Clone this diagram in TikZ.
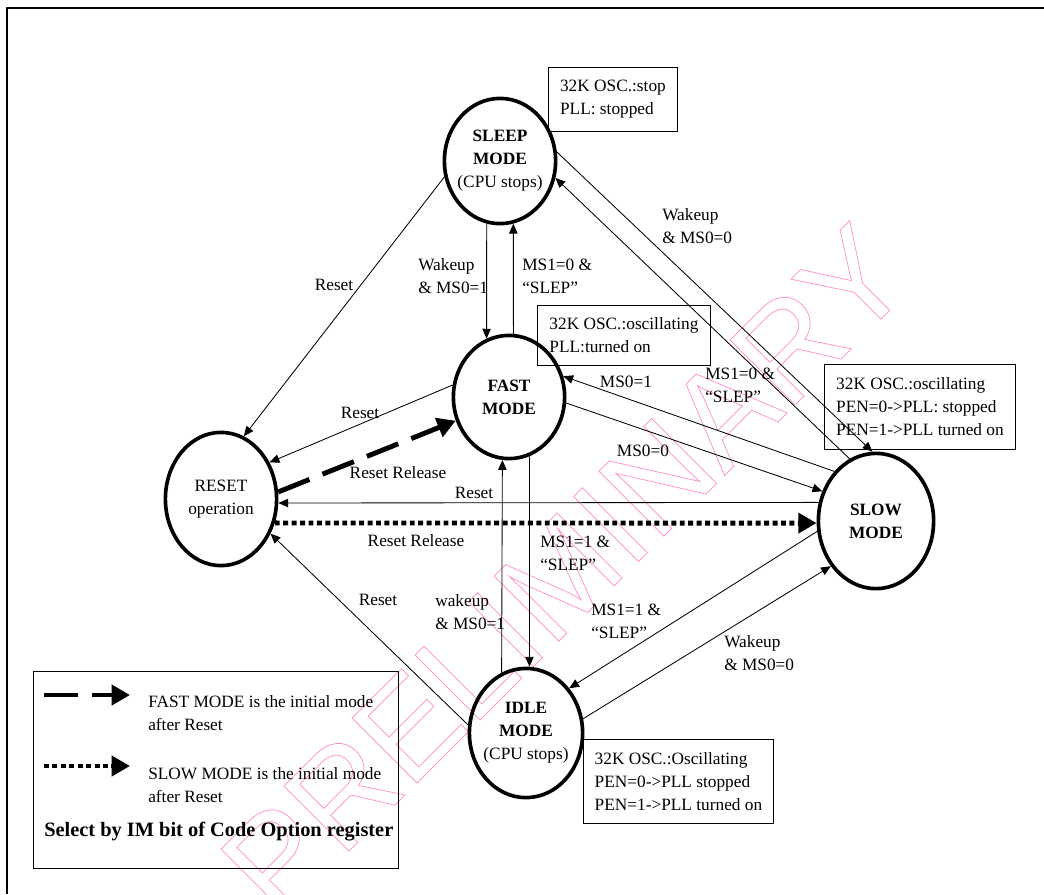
\documentclass[tikz,border=0pt]{standalone}
\usepackage{fontspec}
\setmainfont{Liberation Serif}
\setsansfont{Liberation Sans}
\usetikzlibrary{arrows.meta, shapes.geometric}

\definecolor{markpink}{RGB}{255,140,200}
\newcommand{\outlinetext}[1]{\special{pdf:literal direct 0.5 w 1 Tr}#1\special{pdf:literal direct 0 Tr}}

\begin{document}
\begin{tikzpicture}[
    x=0.025cm, y=-0.025cm,
    every node/.style={font=\fontsize{12.3}{16.4}\selectfont},
    mode/.style={draw, ellipse, line width=2.6pt, inner xsep=-4pt, inner ysep=0pt, align=center},
    info/.style={draw, line width=0.6pt, align=left, inner sep=0pt, anchor=north west},
    lbl/.style={align=left, inner sep=0pt},
    arr/.style={-{Triangle[length=7pt, width=6pt]}, line width=0.6pt},
    dasharr/.style={-{Triangle[length=13pt, width=14pt]}, line width=3.5pt, dash pattern=on 24pt off 10pt},
    dotarr/.style={-{Triangle[length=13pt, width=14pt]}, line width=3.5pt, dash pattern=on 3.5pt off 2.5pt}
]
\useasboundingbox (0,0) rectangle (1044,894);

\node[rotate=45, text=markpink, inner sep=0pt] (mark) at (565,570)
    {\sffamily\fontsize{95}{95}\selectfont\outlinetext{PRELIMINARY}};

\draw[line width=0.8pt] (7,894) -- (7,8) -- (1044,8);

\node[mode, minimum width=2.78cm, minimum height=3.13cm] (sleep) at (500,161) {\textbf{SLEEP}\\\textbf{MODE}\\(CPU stops)};
\node[mode, minimum width=2.78cm, minimum height=3.08cm] (fast) at (509,397) {\textbf{FAST}\\\textbf{MODE}};
\node[mode, minimum width=2.78cm, minimum height=3.33cm] (reset) at (221,499) {RESET\\operation};
\node[mode, minimum width=2.88cm, minimum height=3.38cm] (slow) at (876,521) {\textbf{SLOW}\\\textbf{MODE}};
\node[mode, minimum width=2.83cm, minimum height=3.23cm] (idle) at (526,733) {\textbf{IDLE}\\\textbf{MODE}\\(CPU stops)};

\node[info, minimum width=3.225cm, minimum height=1.6cm] (sleepinfo) at (548,67) {32K OSC.:stop\\PLL: stopped};
\node[info, minimum width=4.325cm, minimum height=1.5cm] (fastinfo) at (537,305) {32K OSC.:oscillating\\PLL:turned on};
\node[info, minimum width=4.775cm, minimum height=2.125cm] (slowinfo) at (824,364) {32K OSC.:oscillating\\PEN=0->PLL: stopped\\PEN=1->PLL turned on};
\node[info, minimum width=4.75cm, minimum height=2.1cm] (idleinfo) at (583,739) {32K OSC.:Oscillating\\PEN=0->PLL stopped\\PEN=1->PLL turned on};

\draw[arr] (sleep.196) -- (reset.70);
\draw[arr] (sleep.258) -- (fast.111);
\draw[arr] (fast.86) -- (sleep.282);
\draw[arr] (sleep.9) -- (slow.93);
\draw[arr] (slow.113) -- (sleep.343);
\draw[arr] (slow.130) -- (fast.21);
\draw[arr] (fast.354) -- (slow.151);
\draw[arr] (fast.168) -- (reset.37);
\draw[dasharr] (reset.7) -- (fast.204);
\draw[arr] (slow.162) -- (reset.356);
\draw[dotarr] (reset.336) -- (slow.182);
\draw[arr] (idle.112) -- (fast.264);
\draw[arr] (fast.289) -- (idle.87);
\draw[arr] (slow.190) -- (idle.46);
\draw[arr] (idle.14) -- (slow.225);
\draw[arr] (idle.172) -- (reset.325);

\node[lbl] (l1) at (334,285) {Reset};
\node[lbl, anchor=west] (l2) at (418,276) {Wakeup\\\& MS0=1};
\node[lbl, anchor=west] (l3) at (522,276) {MS1=0 \&\\“SLEP”};
\node[lbl, anchor=west] (l4) at (662,226) {Wakeup\\\& MS0=0};
\node[lbl, anchor=west] (l5) at (705,385) {MS1=0 \&\\“SLEP”};
\node[lbl] (l6) at (626,382) {MS0=1};
\node[lbl] (l7) at (643,451) {MS0=0};
\node[lbl] (l8) at (360,413) {Reset};
\node[lbl] (l9) at (398,473) {Reset Release};
\node[lbl] (l10) at (474,493) {Reset};
\node[lbl] (l11) at (416,541) {Reset Release};
\node[lbl, anchor=west] (l12) at (540,553) {MS1=1 \&\\“SLEP”};
\node[lbl] (l13) at (378,600) {Reset};
\node[lbl, anchor=west] (l14) at (435,612) {wakeup\\\& MS0=1};
\node[lbl, anchor=west] (l15) at (591,621) {MS1=1 \&\\“SLEP”};
\node[lbl, anchor=west] (l16) at (724,653) {Wakeup\\\& MS0=0};

\node[draw, line width=0.6pt, minimum width=9.125cm, minimum height=4.925cm, anchor=north west] (legend) at (33,671) {};
\coordinate (fasta) at (44,695);
\coordinate (fastb) at (130,695);
\coordinate (slowa) at (44,766);
\coordinate (slowb) at (130,766);
\draw[dasharr] (fasta) -- (fastb);
\draw[dotarr] (slowa) -- (slowb);
\node[lbl, anchor=west] (fasttxt) at (148,713) {FAST MODE is the initial mode\\after Reset};
\node[lbl, anchor=west] (slowtxt) at (148,785) {SLOW MODE is the initial mode\\after Reset};
\node[lbl, anchor=base west, font=\fontsize{14.5}{17}\selectfont\bfseries] (imtxt) at (44,836) {Select by IM bit of Code Option register};
\end{tikzpicture}
\end{document}
